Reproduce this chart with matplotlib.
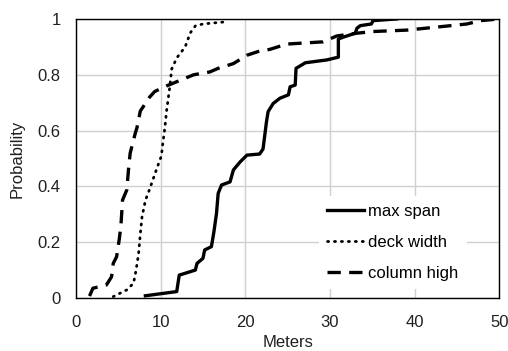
import matplotlib
matplotlib.use("Agg")
import matplotlib.pyplot as plt

# cumulative probability curves (meters, probability)
span_m = [8.2, 11.9, 12.2, 14.1, 14.3, 15.0, 15.2, 16.0, 16.3, 16.6, 16.8, 17.2,
          18.2, 18.6, 19.4, 20.2, 21.7, 22.1, 22.5, 22.7, 23.3, 24.1, 25.1, 25.3,
          25.9, 26.0, 27.1, 29.6, 31.0, 31.0, 31.6, 33.0, 33.2, 33.6, 34.9, 35.1, 37.9]
span_p = [0.008, 0.023, 0.082, 0.10, 0.124, 0.142, 0.172, 0.184, 0.238, 0.303, 0.375, 0.405,
          0.416, 0.459, 0.488, 0.512, 0.516, 0.534, 0.63, 0.668, 0.697, 0.716, 0.728, 0.757,
          0.763, 0.823, 0.843, 0.853, 0.863, 0.928, 0.935, 0.949, 0.967, 0.976, 0.982, 0.994, 1.0]

deck_m = [4.4, 6.0, 6.8, 7.1, 7.4, 7.6, 7.8, 8.2, 8.7, 9.5, 10.1, 10.2, 10.5, 10.7,
          11.1, 11.3, 11.9, 12.9, 13.5, 14.1, 15.0, 17.8]
deck_p = [0.005, 0.029, 0.053, 0.10, 0.16, 0.23, 0.29, 0.35, 0.39, 0.46, 0.51, 0.54, 0.61, 0.67,
          0.76, 0.82, 0.86, 0.90, 0.95, 0.975, 0.982, 0.99]

col_m = [1.6, 2.0, 3.6, 4.2, 4.4, 4.8, 5.1, 5.3, 5.5, 6.0, 6.2, 6.4, 7.0, 7.2, 7.6, 8.7,
         9.3, 10.7, 12.3, 13.9, 15.8, 16.8, 18.6, 20.2, 21.7, 22.9, 24.9, 29.2, 30.8, 33.2,
         35.1, 39.1, 43.0, 46.2, 47.8, 50.0]
col_p = [0.007, 0.035, 0.047, 0.076, 0.124, 0.148, 0.208, 0.256, 0.351, 0.387, 0.459, 0.519,
         0.59, 0.61, 0.67, 0.72, 0.74, 0.76, 0.78, 0.80, 0.81, 0.823, 0.84, 0.87, 0.885, 0.891,
         0.91, 0.918, 0.939, 0.949, 0.955, 0.96, 0.972, 0.982, 0.994, 1.0]

x_ticks = [0, 10, 20, 30, 40, 50]
y_ticks = [0, 0.2, 0.4, 0.6, 0.8, 1.0]
y_labels = ["0", "0.2", "0.4", "0.6", "0.8", "1"]

plt.rcParams['font.family'] = ['Liberation Sans', 'DejaVu Sans']
plt.rcParams['font.size'] = 12

fig = plt.figure(figsize=(5.08, 3.51), dpi=100, facecolor='w')
ax = fig.add_axes([0.1496, 0.151, 0.8330, 0.795])

ax.plot(span_m, span_p, color='black', lw=2.4, solid_joinstyle='round', label='max span')
ax.plot(deck_m, deck_p, color='black', lw=2.0, linestyle=(0, (0.4, 2.1)),
        dash_capstyle='round', label='deck width')
ax.plot(col_m, col_p, color='black', lw=2.4, linestyle=(0, (4, 2.5)), label='column high')

ax.set_xlim(0, 50)
ax.set_ylim(0, 1)
ax.set_xticks(x_ticks)
ax.set_yticks(y_ticks)
ax.set_yticklabels(y_labels)
ax.grid(True, color='#d0d0d0', lw=1)
ax.set_axisbelow(True)
ax.tick_params(axis='x', length=0, pad=12, labelcolor='#202020')
ax.tick_params(axis='y', length=0, pad=11, labelcolor='#202020')
for s in ax.spines.values():
    s.set_color('black')
    s.set_linewidth(1)

ax.set_xlabel('Meters', color='#202020', labelpad=4)
ax.set_ylabel('Probability', color='#202020', labelpad=9)

leg = ax.legend(loc='lower left', bbox_to_anchor=(0.554, 0.002), frameon=True,
                fancybox=False, edgecolor='none', framealpha=1, handlelength=2.2,
                handletextpad=0.25, labelspacing=0.95, borderpad=0.5)

plt.savefig('out.png', dpi=100)
